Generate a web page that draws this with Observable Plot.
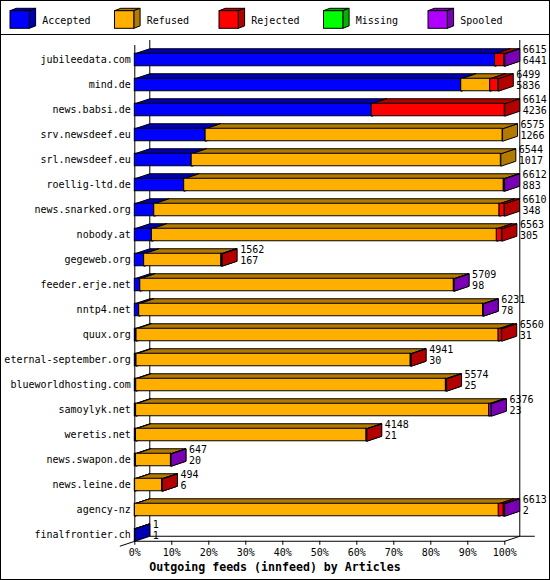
<!DOCTYPE html>
<html><head><meta charset="utf-8">
<script src="https://cdn.jsdelivr.net/npm/d3@7"></script>
<script src="https://cdn.jsdelivr.net/npm/@observablehq/plot@0.6"></script>
<style>
html,body{margin:0;padding:0;background:#fff;}
#wrap{position:relative;width:550px;height:580px;overflow:hidden;font-family:"DejaVu Sans Mono",monospace;background:#fff;}
#legend{position:absolute;left:0;top:0;}
#chart{position:absolute;left:0;top:36px;}
#caption{position:absolute;left:0;top:560px;width:550px;height:16px;text-align:center;font:bold 11.6px "DejaVu Sans Mono",monospace;line-height:15px;color:#000;}
#border{position:absolute;left:0;top:0;width:550px;height:580px;box-sizing:border-box;border:1px solid #000;pointer-events:none;}
</style></head><body>
<div id="wrap"><div id="legend"></div><div id="chart"></div><div id="caption">Outgoing feeds (innfeed) by Articles</div><div id="border"></div></div>
<script>
// ---- data ----
const categories = ["Accepted", "Refused", "Rejected", "Missing", "Spooled"];
const colors = ["#0000FF", "#FFAF00", "#FF0000", "#00FF00", "#AF00FF"];
const hosts = ["jubileedata.com", "mind.de", "news.babsi.de", "srv.newsdeef.eu", "srl.newsdeef.eu",
  "roellig-ltd.de", "news.snarked.org", "nobody.at", "gegeweb.org", "feeder.erje.net",
  "nntp4.net", "quux.org", "eternal-september.org", "blueworldhosting.com", "samoylyk.net",
  "weretis.net", "news.swapon.de", "news.leine.de", "agency-nz", "finalfrontier.ch"];
const totals   = [6615, 6499, 6614, 6575, 6544, 6612, 6610, 6563, 1562, 5709, 6231, 6560, 4941, 5574, 6376, 4148, 647, 494, 6613, 1];
const accepted = [6441, 5836, 4236, 1266, 1017, 883, 348, 305, 167, 98, 78, 31, 30, 25, 23, 21, 20, 6, 2, 1];
const refused  = [0, 518, 0, 5309, 5527, 5714, 6173, 6168, 1381, 5606, 6149, 6474, 4903, 5537, 6313, 4122, 626, 484, 6506, 0];
const rejected = [166, 145, 2378, 0, 0, 0, 89, 90, 14, 0, 0, 55, 8, 12, 0, 5, 0, 4, 89, 0];
const missing  = [0, 0, 0, 0, 0, 0, 0, 0, 0, 0, 0, 0, 0, 0, 0, 0, 0, 0, 0, 0];
const spooled  = [8, 0, 0, 0, 0, 15, 0, 0, 0, 5, 4, 0, 0, 0, 40, 0, 1, 0, 16, 0];
const xTicks = [0, 10, 20, 30, 40, 50, 60, 70, 80, 90, 100];

// ---- geometry of the 3D effect (scale units) ----
const D = 4.05;  // depth along x (percent units)
const E = 0.2;   // depth rise (row units)
const H = 0.25;  // half height of a bar's front face (row units)
const darks = colors.map(c => d3.color(c).darker(1).formatHex());
const series = [accepted, refused, rejected, missing, spooled];
const maxTotal = d3.max(totals);

const fronts = [], tops = [], sides = [];
hosts.forEach((h, i) => {
  let cum = 0;
  series.forEach((s, k) => {
    const v = s[i];
    if (!(v > 0)) return;
    const x1 = cum / maxTotal * 100; cum += v;
    const x2 = cum / maxTotal * 100;
    const id = i + "-" + k, yt = i - H, yb = i + H;
    fronts.push({x1, x2, y1: yt, y2: yb, fill: colors[k]});
    [[x1, yt], [x2, yt], [x2 + D, yt - E], [x1 + D, yt - E], [x1, yt]]
      .forEach(([x, y]) => tops.push({id, x, y, fill: darks[k]}));
    [[x2, yt], [x2 + D, yt - E], [x2 + D, yb - E], [x2, yb], [x2, yt]]
      .forEach(([x, y]) => sides.push({id, x, y, fill: darks[k]}));
  });
});
const rowsData = hosts.map((h, i) => ({i, end: totals[i] / maxTotal * 100 + D, total: totals[i], acc: accepted[i]}));

const yTop = -0.8, yFloor = hosts.length - 1 + H;
const frame = [
  {x1: 0, y1: yTop + E, x2: 0, y2: yFloor},
  {x1: D, y1: yTop, x2: D, y2: yFloor - E},
  {x1: 100 + D, y1: yTop, x2: 100 + D, y2: yFloor - E},
  {x1: D, y1: yFloor - E, x2: 100 + 2 * D, y2: yFloor - E},
  {x1: -D, y1: yFloor + E, x2: 0, y2: yFloor},
  {x1: 0, y1: yFloor, x2: 100, y2: yFloor},
  {x1: 100, y1: yFloor, x2: 100 + D, y2: yFloor - E}
];

const chart = Plot.plot({
  width: 550, height: 524,
  marginLeft: 134.3, marginRight: 45.7, marginTop: 3.5, marginBottom: 19.25,
  x: {domain: [0, 100]},
  y: {domain: [yTop, yFloor], reverse: true},
  color: {type: "identity"},
  style: {fontFamily: '"DejaVu Sans Mono", monospace', fontSize: "10px", background: "transparent", color: "black", overflow: "visible"},
  marks: [
    Plot.link(frame, {x1: "x1", y1: "y1", x2: "x2", y2: "y2", stroke: "black", strokeWidth: 1}),
    Plot.line(sides, {x: "x", y: "y", z: "id", fill: "fill", stroke: "black", strokeWidth: 1, strokeLinejoin: "miter"}),
    Plot.line(tops, {x: "x", y: "y", z: "id", fill: "fill", stroke: "black", strokeWidth: 1, strokeLinejoin: "miter"}),
    Plot.rect(fronts, {x1: "x1", x2: "x2", y1: "y1", y2: "y2", fill: "fill", stroke: "black", strokeWidth: 1}),
    Plot.text(rowsData, {x: "end", y: "i", text: d => String(d.total), textAnchor: "start", dx: 3, dy: -10, fill: "black"}),
    Plot.text(rowsData, {x: "end", y: "i", text: d => String(d.acc), textAnchor: "start", dx: 3, dy: 1, fill: "black"}),
    Plot.axisX({ticks: xTicks, tickFormat: d => d + "%", tickSize: 4, tickPadding: 4, label: null}),
    Plot.axisY({ticks: d3.range(hosts.length), tickFormat: i => hosts[i], tickSize: 0, tickPadding: 4, label: null})
  ]
});
document.getElementById("chart").appendChild(chart);

// ---- legend ----
const leg = d3.select("#legend").append("svg").attr("width", 550).attr("height", 36);
leg.append("line").attr("x1", 0).attr("x2", 550).attr("y1", 34.5).attr("y2", 34.5).attr("stroke", "black");
categories.forEach((c, k) => {
  const x0 = 10 + k * 104.5, y0 = 10.7, w = 19.3, h = 17.6, dx = 6.3, dy = 2.4;
  const g = leg.append("g").attr("stroke", "black").attr("stroke-width", 1);
  g.append("polygon").attr("points", [[x0, y0], [x0 + dx, y0 - dy], [x0 + w + dx, y0 - dy], [x0 + w, y0]].join(" ")).attr("fill", darks[k]);
  g.append("polygon").attr("points", [[x0 + w, y0], [x0 + w + dx, y0 - dy], [x0 + w + dx, y0 + h - dy], [x0 + w, y0 + h]].join(" ")).attr("fill", darks[k]);
  g.append("rect").attr("x", x0).attr("y", y0).attr("width", w).attr("height", h).attr("fill", colors[k]);
  leg.append("text").attr("x", x0 + 32.3).attr("y", 20).attr("dy", "0.35em")
    .attr("font-family", '"DejaVu Sans Mono", monospace').attr("font-size", "10px").text(c);
});
</script>
</body></html>
